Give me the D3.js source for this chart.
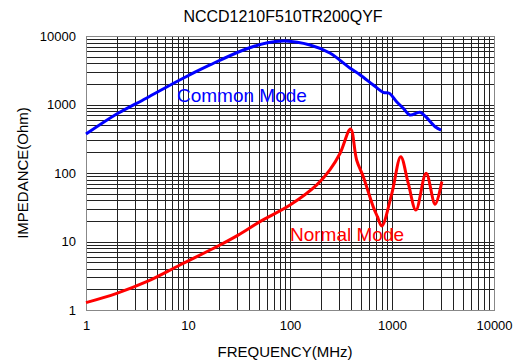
<!DOCTYPE html>
<html>
<head>
<meta charset="utf-8">
<script src="https://cdn.jsdelivr.net/npm/d3@7"></script>
<style>
	body { margin: 0; background: #fff; }
	text { font-family: "Liberation Sans", Arial, sans-serif; }
</style>
</head>
<body>
<div id="chart-area"></div>
<script>
// values
const title = "NCCD1210F510TR200QYF";
const tickValues = [1, 10, 100, 1000, 10000];

const cmFreq = [1, 2, 3.9, 8.3, 16.4, 35, 60, 90, 157, 246, 386, 488, 655, 822, 940, 1110, 1290, 1495, 1878, 2140, 2647, 3030];
const cmZ = [370, 725, 1236, 2280, 3775, 6250, 7980, 8450, 7390, 5650, 3410, 2700, 1930, 1506, 1457, 1100, 880, 703, 769, 664, 474, 424];

const dmFreq = [1, 2, 3.93, 8.33, 20.6, 31, 50.8, 100, 183, 246, 310, 392, 450, 523, 655, 720, 794, 997, 1218, 1442, 1717, 2160, 2647, 3080];
const dmZ = [1.28, 1.75, 2.59, 4.54, 8.9, 12.4, 19.5, 34, 67, 111, 194, 440, 155, 88, 32, 23, 16.8, 50.5, 173, 71, 28.8, 99, 35, 75];

const W = 518, H = 360;
const margin = {left: 86, right: 494, top: 36, bottom: 310};

var svg = d3.select("#chart-area").append("svg")
	.attr("width", W)
	.attr("height", H);

var x = d3.scaleLog().domain([1, 10000]).range([margin.left, margin.right]);
var y = d3.scaleLog().domain([1, 10000]).range([margin.bottom, margin.top]);

// grid
var grid = svg.append("g").attr("class", "grid");
grid.selectAll(".vx")
	.data(x.ticks())
	.join("line")
	.attr("x1", d => Math.round(x(d)) + 0.5)
	.attr("x2", d => Math.round(x(d)) + 0.5)
	.attr("y1", margin.top)
	.attr("y2", margin.bottom)
	.attr("stroke", "#222")
	.attr("stroke-width", 1);
grid.selectAll(".hy")
	.data(y.ticks())
	.join("line")
	.attr("y1", d => Math.round(y(d)) + 0.5)
	.attr("y2", d => Math.round(y(d)) + 0.5)
	.attr("x1", margin.left)
	.attr("x2", margin.right)
	.attr("stroke", "#222")
	.attr("stroke-width", 1);

svg.append("rect")
	.attr("x", margin.left + 0.5)
	.attr("y", margin.top + 0.5)
	.attr("width", margin.right - margin.left)
	.attr("height", margin.bottom - margin.top)
	.attr("fill", "none")
	.attr("stroke", "#888");

// axes
var xAxis = d3.axisBottom(x)
	.tickValues(tickValues)
	.tickSize(0)
	.tickPadding(11)
	.tickFormat(d3.format("d"));
var yAxis = d3.axisLeft(y)
	.tickValues(tickValues)
	.tickSize(0)
	.tickPadding(10)
	.tickFormat(d3.format("d"));

svg.append("g")
	.attr("transform", "translate(0," + margin.bottom + ")")
	.call(xAxis)
	.call(g => g.select(".domain").remove())
	.selectAll("text")
	.style("font-size", "13px")
	.style("font-family", "Liberation Sans, Arial, sans-serif")
	.attr("fill", "#000");

svg.append("g")
	.attr("transform", "translate(" + margin.left + ",0)")
	.call(yAxis)
	.call(g => g.select(".domain").remove())
	.selectAll("text")
	.style("font-size", "13px")
	.style("font-family", "Liberation Sans, Arial, sans-serif")
	.attr("fill", "#000");

// curves
var line = d3.line()
	.x(d => x(d[0]))
	.y(d => y(d[1]))
	.curve(d3.curveCatmullRom.alpha(0.5));

svg.append("path")
	.datum(cmFreq.map((f, i) => [f, cmZ[i]]))
	.attr("d", line)
	.attr("fill", "none")
	.attr("stroke", "#0000ff")
	.attr("stroke-width", 3);

svg.append("path")
	.datum(dmFreq.map((f, i) => [f, dmZ[i]]))
	.attr("d", line)
	.attr("fill", "none")
	.attr("stroke", "#ff0000")
	.attr("stroke-width", 3);

// labels
svg.append("text")
	.attr("x", 283)
	.attr("y", 22)
	.attr("text-anchor", "middle")
	.style("font-size", "16px")
	.text(title);

svg.append("text")
	.attr("x", 177)
	.attr("y", 102)
	.attr("fill", "#0000ff")
	.style("font-size", "19px")
	.text("Common Mode");

svg.append("text")
	.attr("x", 290)
	.attr("y", 241)
	.attr("fill", "#ff0000")
	.style("font-size", "19px")
	.text("Normal Mode");

svg.append("text")
	.attr("x", 285)
	.attr("y", 357)
	.attr("text-anchor", "middle")
	.style("font-size", "15px")
	.text("FREQUENCY(MHz)");

svg.append("text")
	.attr("transform", "translate(28," + ((margin.top + margin.bottom) / 2) + ") rotate(-90)")
	.attr("text-anchor", "middle")
	.style("font-size", "15px")
	.text("IMPEDANCE(Ohm)");
</script>
</body>
</html>
